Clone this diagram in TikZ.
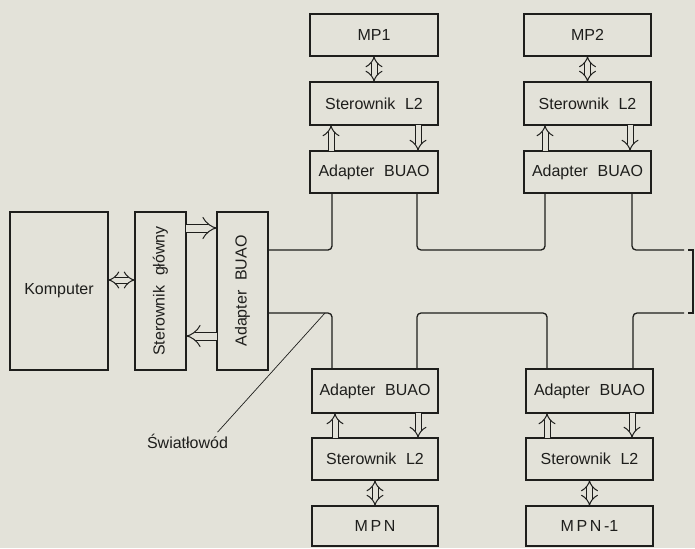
\documentclass[tikz,border=0pt]{standalone}
\usepackage{fontspec}
\usepackage{graphicx}
\setmainfont{Liberation Sans}
\usetikzlibrary{arrows.meta}
\definecolor{paper}{RGB}{227,226,217}
\definecolor{ink}{RGB}{30,30,28}
\begin{document}
\begin{tikzpicture}[x=1pt,y=-1pt,
    blok/.style={draw=ink,line width=1.2pt,inner sep=0pt,outer sep=0pt,
      text=ink,font=\fontsize{16}{18}\selectfont},
    szyna/.style={draw=ink,line width=1pt,double=paper,double distance=5pt,-{Implies[scale=1.8]}},
    szyna2/.style={szyna,{Implies[scale=1.8]}-{Implies[scale=1.8]}},
    kabel/.style={draw=ink,line width=1.3pt,rounded corners=4pt}]
    \fill[paper] (0,0) rectangle (695,548);
    \useasboundingbox (0,0) rectangle (695,548);

    % lewa czesc
    \node[blok,minimum width=98pt,minimum height=158pt] (komp) at (59,291) {Komputer};
    \node[blok,minimum width=51pt,minimum height=158pt] (sgl) at (160.5,291)
        {\rotatebox{90}{Sterownik\hspace{0.6em}główny}};
    \node[blok,minimum width=51pt,minimum height=158pt] (adl) at (242.5,291)
        {\rotatebox{90}{Adapter\hspace{0.6em}BUAO}};
    \draw[szyna,double distance=5pt,{Implies[scale=1.4]}-{Implies[scale=1.4]}] (komp.east |- 0,280) -- (sgl.west |- 0,280);
    \draw[szyna,double distance=7pt] (sgl.east |- 0,228) -- (adl.west |- 0,228);
    \draw[szyna,double distance=7pt] (adl.west |- 0,336) -- (sgl.east |- 0,336);

    % gorne stacje
    \node[blok,minimum width=128pt,minimum height=42pt] (mp1) at (374,35) {MP1};
    \node[blok,minimum width=128pt,minimum height=43pt] (l2a) at (374,103.5) {Sterownik\hspace{0.6em}L2};
    \node[blok,minimum width=128pt,minimum height=42pt] (ad1) at (374,172) {Adapter\hspace{0.6em}BUAO};
    \draw[szyna2] (mp1.south) -- (l2a.north);
    \draw[szyna] ([xshift=21pt]ad1.north west) -- ([xshift=21pt]l2a.south west);
    \draw[szyna] ([xshift=-20pt]l2a.south east) -- ([xshift=-20pt]ad1.north east);

    \node[blok,minimum width=127pt,minimum height=42pt] (mp2) at (587.5,35) {MP2};
    \node[blok,minimum width=127pt,minimum height=43pt] (l2b) at (587.5,103.5) {Sterownik\hspace{0.6em}L2};
    \node[blok,minimum width=127pt,minimum height=42pt] (ad2) at (587.5,172) {Adapter\hspace{0.6em}BUAO};
    \draw[szyna2] (mp2.south) -- (l2b.north);
    \draw[szyna] ([xshift=21pt]ad2.north west) -- ([xshift=21pt]l2b.south west);
    \draw[szyna] ([xshift=-21pt]l2b.south east) -- ([xshift=-21pt]ad2.north east);

    % dolne stacje
    \node[blok,minimum width=126pt,minimum height=44pt] (ad3) at (375,391) {Adapter\hspace{0.6em}BUAO};
    \node[blok,minimum width=126pt,minimum height=42pt] (l2c) at (375,459) {Sterownik\hspace{0.6em}L2};
    \node[blok,minimum width=126pt,minimum height=40pt] (mpn) at (375,526) {M\,P\,N};
    \draw[szyna] ([xshift=23pt]l2c.north west) -- ([xshift=23pt]ad3.south west);
    \draw[szyna] ([xshift=-20pt]ad3.south east) -- ([xshift=-20pt]l2c.north east);
    \draw[szyna2] (l2c.south) -- (mpn.north);

    \node[blok,minimum width=127pt,minimum height=44pt] (ad4) at (589.5,391) {Adapter\hspace{0.6em}BUAO};
    \node[blok,minimum width=127pt,minimum height=42pt] (l2d) at (589.5,459) {Sterownik\hspace{0.6em}L2};
    \node[blok,minimum width=127pt,minimum height=40pt] (mpn1) at (589.5,526) {M\,P\,N\,-1};
    \draw[szyna] ([xshift=21pt]l2d.north west) -- ([xshift=21pt]ad4.south west);
    \draw[szyna] ([xshift=-21pt]ad4.south east) -- ([xshift=-21pt]l2d.north east);
    \draw[szyna2] (l2d.south) -- (mpn1.north);

    % pierscien swiatlowodowy
    \coordinate (kT1) at (684,250);
    \coordinate (kT2) at (688,250);
    \coordinate (kD1) at (684,313);
    \coordinate (kD2) at (688,313);
    \draw[kabel] (adl.east |- 0,250) -| ([xshift=22pt]ad1.south west);
    \draw[kabel] ([xshift=-21pt]ad1.south east) -- ++(0,57) -| ([xshift=21pt]ad2.south west);
    \draw[kabel] ([xshift=-19pt]ad2.south east) |- (kT1);
    \draw[kabel,rounded corners=0pt] (kT2) -- (693,250) -- (693,313) -- (kD2);
    \draw[kabel] (kD1) -| ([xshift=-20pt]ad4.north east);
    \draw[kabel] (adl.east |- 0,313) -| ([xshift=20pt]ad3.north west);
    \draw[kabel] ([xshift=-21pt]ad3.north east) -- ++(0,-56) -| ([xshift=21pt]ad4.north west);

    % opis
    \node[text=ink,font=\fontsize{16}{18}\selectfont] (swiat) at (187.5,441) {Światłowód};
    \coordinate (rog) at (325,313);
    \draw[ink,line width=0.7pt] ([xshift=-14pt,yshift=-2pt]swiat.north east) -- (rog);
\end{tikzpicture}
\end{document}
